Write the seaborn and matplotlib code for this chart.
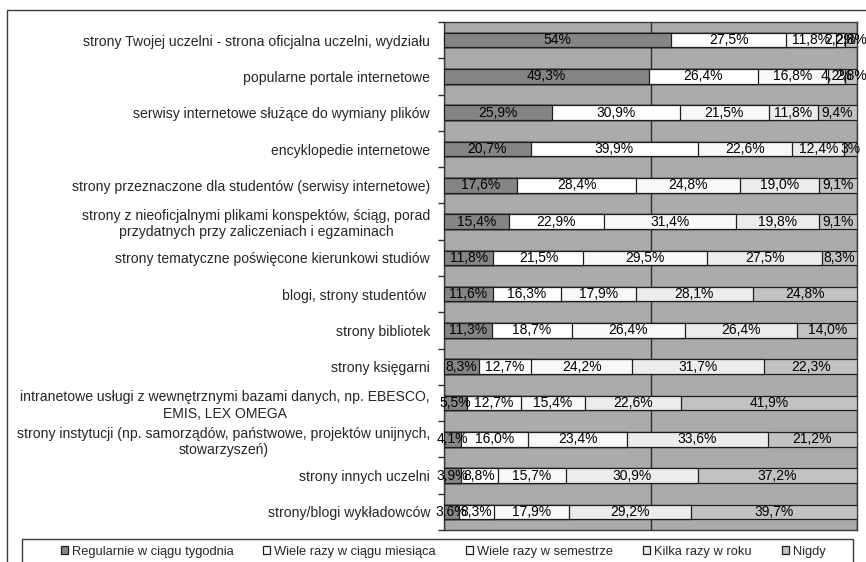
import matplotlib
matplotlib.use("Agg")
import matplotlib.pyplot as plt
from matplotlib.patches import Patch, Rectangle
import numpy as np
import pandas as pd
import seaborn as sns

# Source categories (top to bottom)
kategorie = [
    "strony Twojej uczelni - strona oficjalna uczelni, wydziału",
    "popularne portale internetowe",
    "serwisy internetowe służące do wymiany plików",
    "encyklopedie internetowe",
    "strony przeznaczone dla studentów (serwisy internetowe)",
    "strony z nieoficjalnymi plikami konspektów, ściąg, porad\nprzydatnych przy zaliczeniach i egzaminach",
    "strony tematyczne poświęcone kierunkowi studiów",
    "blogi, strony studentów ",
    "strony bibliotek",
    "strony księgarni",
    "intranetowe usługi z wewnętrznymi bazami danych, np. EBESCO,\nEMIS, LEX OMEGA",
    "strony instytucji (np. samorządów, państwowe, projektów unijnych,\nstowarzyszeń)",
    "strony innych uczelni",
    "strony/blogi wykładowców",
]

# Answer shares in percent, written as they are printed
regularnie = ["54", "49,3", "25,9", "20,7", "17,6", "15,4", "11,8", "11,6", "11,3", "8,3", "5,5", "4,1", "3,9", "3,6"]
miesiac = ["27,5", "26,4", "30,9", "39,9", "28,4", "22,9", "21,5", "16,3", "18,7", "12,7", "12,7", "16,0", "8,8", "8,3"]
semestr = ["11,8", "16,8", "21,5", "22,6", "24,8", "31,4", "29,5", "17,9", "26,4", "24,2", "15,4", "23,4", "15,7", "17,9"]
rok = ["2,2", "4,2", "11,8", "12,4", "19,0", "19,8", "27,5", "28,1", "26,4", "31,7", "22,6", "33,6", "30,9", "29,2"]
nigdy = ["2,8", "2,8", "9,4", "3", "9,1", "9,1", "8,3", "24,8", "14,0", "22,3", "41,9", "21,2", "37,2", "39,7"]

serie = ["Regularnie w ciągu tygodnia", "Wiele razy w ciągu miesiąca",
         "Wiele razy w semestrze", "Kilka razy w roku", "Nigdy"]
kolory = ["#858585", "#ffffff", "#f8f8f8", "#ececec", "#c2c2c2"]

teksty = [regularnie, miesiac, semestr, rok, nigdy]
wartosci = np.array([[float(s.replace(",", ".")) for s in t] for t in teksty])  # 5 x 14
udzialy = wartosci / wartosci.sum(axis=0) * 100.0  # 100% stacked
skumulowane = np.cumsum(udzialy, axis=0)

df = pd.DataFrame({"kategoria": kategorie})
for k in range(len(serie)):
    df[f"cum{k}"] = skumulowane[k]

sns.set_theme(style="white")
plt.rcParams["font.family"] = ["Liberation Sans", "DejaVu Sans"]

W, H = 866, 562
fig = plt.figure(figsize=(W / 100, H / 100), dpi=100)
ax = fig.add_axes([444 / W, 1 - 530 / H, (857 - 444) / W, (530 - 22) / H])
ax.set_facecolor("#ababab")

# Outer chart frame
fig.patches.append(Rectangle((7 / W, -0.05), 1.0, 1 - 10 / H + 0.05, transform=fig.transFigure,
                             fill=False, edgecolor="#3a3a3a", linewidth=1.0, zorder=0))
# Legend frame
fig.patches.append(Rectangle((22 / W, -0.05), (853 - 22) / W, 1 - 539 / H + 0.05,
                             transform=fig.transFigure, fill=False, edgecolor="#3a3a3a",
                             linewidth=1.0, zorder=0))

# Stacked bars: draw cumulative totals from the last series to the first
for k in reversed(range(len(serie))):
    sns.barplot(data=df, x=f"cum{k}", y="kategoria", color=kolory[k], saturation=1,
                width=0.4, edgecolor="#1e1e1e", linewidth=0.9, errorbar=None,
                orient="h", ax=ax, zorder=3)

# Value labels in each segment
for k in range(len(serie)):
    for i in range(len(kategorie)):
        start = skumulowane[k, i] - udzialy[k, i]
        ax.text(start + udzialy[k, i] / 2, i, teksty[k][i] + "%", ha="center", va="center",
                fontsize=10, color="black", zorder=10, clip_on=False)

ax.set_xlim(0, 100)
ax.set_ylim(len(kategorie) - 0.5, -0.5)
ax.set_xticks([0, 50, 100])
ax.grid(axis="x", color="#2e2e2e", linewidth=1.0)
ax.grid(axis="y", visible=False)
ax.set_axisbelow(True)
ax.tick_params(axis="x", bottom=False, labelbottom=False)
ax.set_xlabel("")
ax.set_ylabel("")

ax.set_yticks(range(len(kategorie)))
ax.set_yticklabels(kategorie, fontsize=10.1)
for lab in ax.get_yticklabels():
    lab.set_multialignment("center")
ax.set_yticks(np.arange(-0.5, len(kategorie), 1.0), minor=True)
ax.tick_params(axis="y", which="major", length=0, pad=10)
ax.tick_params(axis="y", which="minor", length=4, width=1, color="#2e2e2e", direction="out", left=True)

for s in ax.spines.values():
    s.set_visible(True)
    s.set_color("#3a3a3a")
    s.set_linewidth(1.0)

uchwyty = [Patch(facecolor=c, edgecolor="#1e1e1e", linewidth=0.9) for c in kolory]
leg = fig.legend(uchwyty, serie, loc="upper left", ncol=5, mode="expand",
                 bbox_to_anchor=(58 / W, 0, (828 - 58) / W, 1 - 543 / H),
                 fontsize=9.3, frameon=False, handlelength=0.55, handleheight=0.55,
                 handletextpad=0.3, borderpad=0.2, borderaxespad=0)

fig.savefig("out.png", dpi=100, facecolor="white")
